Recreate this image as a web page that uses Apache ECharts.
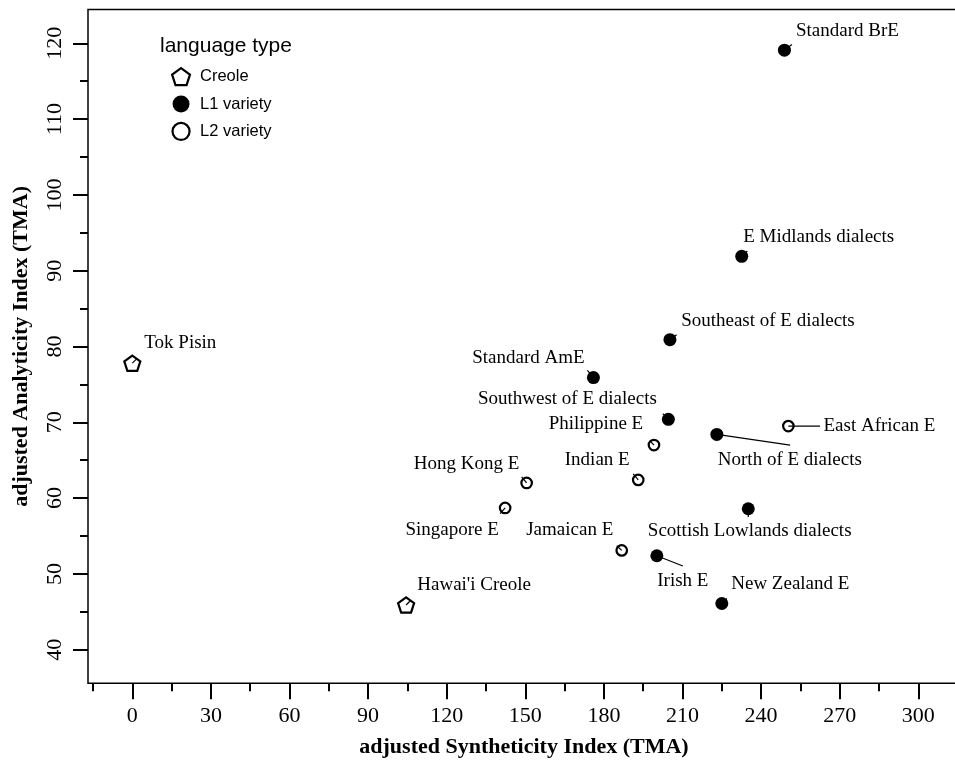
<!DOCTYPE html>
<html>
<head>
<meta charset="utf-8">
<script src="https://cdn.jsdelivr.net/npm/echarts@6/dist/echarts.min.js"></script>
<style>
  html, body { margin: 0; padding: 0; background: #fff; overflow: hidden; }
  #chart { width: 955px; height: 765px; }
</style>
</head>
<body>
<div id="chart"></div>
<script>
// ---- data ----
const names = ['Standard BrE', 'E Midlands dialects', 'Southeast of E dialects', 'Standard AmE',
  'Southwest of E dialects', 'Philippine E', 'North of E dialects', 'East African E', 'Indian E',
  'Hong Kong E', 'Singapore E', 'Scottish Lowlands dialects', 'Jamaican E', 'Irish E',
  'New Zealand E', "Hawai'i Creole", 'Tok Pisin'];
const synthetic = [248.9, 232.6, 205.2, 176.0, 204.6, 199.1, 223.1, 250.4, 193.1,
  150.5, 142.3, 235.1, 186.8, 200.2, 225.0, 104.5, 0.0];
const analytic = [119.1, 91.9, 80.9, 75.9, 70.4, 67.0, 68.4, 69.5, 62.4,
  62.0, 58.7, 58.6, 53.1, 52.4, 46.1, 45.9, 77.8];
const types = ['L1', 'L1', 'L1', 'L1', 'L1', 'L2', 'L1', 'L2', 'L2',
  'L2', 'L2', 'L1', 'L2', 'L1', 'L1', 'Creole', 'Creole'];
const typeNames = { Creole: 'Creole', L1: 'L1 variety', L2: 'L2 variety' };
const xTicks = [0, 30, 60, 90, 120, 150, 180, 210, 240, 270, 300];
const xMinorTicks = [-15, 15, 45, 75, 105, 135, 165, 195, 225, 255, 285];
const yTicks = [40, 50, 60, 70, 80, 90, 100, 110, 120];
const yMinorTicks = [45, 55, 65, 75, 85, 95, 105, 115];

// ---- label placement (pixel offsets: text dx, dy; leader end lx, ly) ----
const labelOffsets = [
  [63, -19, 7.5, -5.7], [77, -19, 5.6, -5.3], [98, -19, 6.7, -5], [-65, -20, -6, -7.3],
  [-101, -20, -5.6, -5.7], [-58, -21, -4, -4.3], [73, 26, 73.3, 10.7], [91, 0, 31.7, 0],
  [-41, -20, -5, -6], [-60, -19, -5, -6], [-53, 22, -5, 5.7], [1.4, 22.7, 0, 8.3],
  [-52, -20, -5, -4.7], [26, 25, 26, 10.3], [68.5, -19.3, 5, -5], [68, -20, 4, -4],
  [48, -20.6, 4.4, -4.3]
];

const pentagon = 'path://M0,-1L0.951,-0.309L0.588,0.809L-0.588,0.809L-0.951,-0.309Z';
const SERIF = '"Liberation Serif", "Times New Roman", serif';
const SANS = '"Liberation Sans", Arial, sans-serif';
const hollow = { color: 'rgba(0,0,0,0)', borderColor: '#000', borderWidth: 2.2, opacity: 1 };
const solid = { color: '#000', borderWidth: 0, opacity: 1 };

function pts(t) {
  const out = [];
  for (let i = 0; i < names.length; i++) if (types[i] === t) out.push([synthetic[i], analytic[i], names[i]]);
  return out;
}

const chart = echarts.init(document.getElementById('chart'), null, { renderer: 'canvas' });
const xMin = -16.91, xMax = 315.91, yMin = 35.57, yMax = 124.46;

const tickStyle = { color: '#000', width: 2 };
const option = {
  animation: false,
  backgroundColor: '#fff',
  title: {
    text: 'language type', left: 160, top: 36, padding: 0,
    textStyle: { fontFamily: SANS, fontSize: 21, fontWeight: 'normal', color: '#000' }
  },
  legend: {
    orient: 'vertical', left: 166, top: 62, itemWidth: 28, itemHeight: 17, itemGap: 9.3,
    textStyle: { fontFamily: SANS, fontSize: 16.5, color: '#000' },
    data: [
      { name: 'Creole', icon: pentagon, itemStyle: hollow },
      { name: 'L1 variety', icon: 'circle', itemStyle: solid },
      { name: 'L2 variety', icon: 'circle', itemStyle: hollow }
    ],
    selectedMode: false
  },
  grid: { left: 88, top: 9.5, width: 872, height: 673.8, show: true, borderColor: '#000', borderWidth: 1.5,
    outerBoundsMode: 'none', containLabel: false },
  xAxis: [
    {
      type: 'value', min: xMin, max: xMax, position: 'bottom',
      name: 'adjusted Syntheticity Index (TMA)', nameLocation: 'middle', nameGap: 53,
      nameTextStyle: { fontFamily: SERIF, fontSize: 22, fontWeight: 'bold', color: '#000' },
      axisLine: { show: false, onZero: false },
      splitLine: { show: false },
      axisTick: { show: true, customValues: xTicks, length: 16, inside: false, lineStyle: tickStyle },
      axisLabel: { show: true, customValues: xTicks, margin: 21.5, fontFamily: SERIF, fontSize: 22, color: '#000' }
    },
    {
      type: 'value', min: xMin, max: xMax, position: 'bottom',
      axisLine: { show: false, onZero: false }, splitLine: { show: false },
      axisTick: { show: true, customValues: xMinorTicks, length: 8, lineStyle: tickStyle },
      axisLabel: { show: false }
    }
  ],
  yAxis: [
    {
      type: 'value', min: yMin, max: yMax, position: 'left',
      name: 'adjusted Analyticity Index (TMA)', nameLocation: 'middle', nameGap: 55.5,
      nameTextStyle: { fontFamily: SERIF, fontSize: 22, fontWeight: 'bold', color: '#000' },
      axisLine: { show: false, onZero: false }, splitLine: { show: false },
      axisTick: { show: true, customValues: yTicks, length: 15, lineStyle: tickStyle },
      axisLabel: { show: true, customValues: yTicks, rotate: 90, margin: 21.5, fontFamily: SERIF, fontSize: 22, color: '#000' }
    },
    {
      type: 'value', min: yMin, max: yMax, position: 'left',
      axisLine: { show: false, onZero: false }, splitLine: { show: false },
      axisTick: { show: true, customValues: yMinorTicks, length: 8, lineStyle: tickStyle },
      axisLabel: { show: false }
    }
  ],
  series: [
    {
      name: 'labels', type: 'custom', xAxisIndex: 0, yAxisIndex: 0, z: 1, silent: true,
      data: synthetic.map((x, i) => [x, analytic[i], i]),
      encode: { x: 0, y: 1 },
      renderItem: function (params, api) {
        const p = api.coord([api.value(0), api.value(1)]);
        const i = api.value(2);
        const o = labelOffsets[i];
        return {
          type: 'group',
          children: [
            { type: 'line', shape: { x1: p[0], y1: p[1], x2: p[0] + o[2], y2: p[1] + o[3] },
              style: { stroke: '#000', lineWidth: 1.2 } },
            { type: 'text', x: p[0] + o[0], y: p[1] + o[1],
              style: { text: names[i], fontFamily: SERIF, fontSize: 19, fill: '#000',
                align: 'center', verticalAlign: 'middle' } }
          ]
        };
      }
    },
    {
      name: typeNames.Creole, type: 'scatter', z: 3, data: pts('Creole'),
      symbol: pentagon, symbolSize: [16, 16], symbolKeepAspect: true, itemStyle: hollow
    },
    {
      name: typeNames.L1, type: 'scatter', z: 3, data: pts('L1'),
      symbol: 'circle', symbolSize: 13, itemStyle: solid
    },
    {
      name: typeNames.L2, type: 'scatter', z: 3, data: pts('L2'),
      symbol: 'circle', symbolSize: 10.5, itemStyle: hollow
    }
  ]
};
chart.setOption(option);
</script>
</body>
</html>
